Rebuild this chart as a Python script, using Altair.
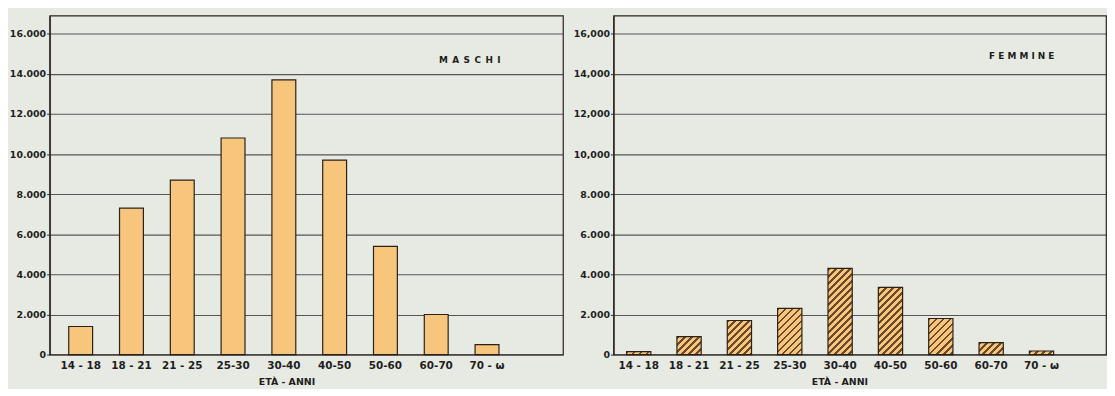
import math
import altair as alt
import pandas as pd

# ---- data ----
ages = ["14 - 18", "18 - 21", "21 - 25", "25-30", "30-40", "40-50", "50-60", "60-70", "70 - ω"]
maschi = [1400, 7300, 8700, 10800, 13700, 9700, 5400, 2000, 500]
femmine = [150, 900, 1700, 2300, 4300, 3350, 1800, 600, 180]
y_ticks = [0, 2000, 4000, 6000, 8000, 10000, 12000, 14000, 16000]

# ---- styles / layout ----
BG = "#e7eae3"
FILL = "#f7c57b"
EDGE = "#2a2218"
GRID = "#3c3c3c"
HATCH = "#6a4a28"
FONT = "DejaVu Sans"

H = 342
YMAX = 16900


def hatch_gradient(w, h, period=5.0, frac=0.4):
    # stripes at 45 degrees in pixel space: t = (x + y) / (w + h)
    r = h / w
    a = (w + h) / (w * (1 + r * r))
    dt = period * math.sqrt(2) / (w + h)
    stops = []
    k = 0
    while k * dt < 1:
        s = k * dt
        m = min(1.0, s + frac * dt)
        e = min(1.0, s + dt)
        stops += [
            {"offset": round(s, 5), "color": HATCH},
            {"offset": round(m, 5), "color": HATCH},
            {"offset": round(m, 5), "color": FILL},
            {"offset": round(e, 5), "color": FILL},
        ]
        k += 1
    return {"gradient": "linear", "x1": 0, "y1": 0, "x2": a, "y2": a * r, "stops": stops}


def panel(values, label, W, pi, po, align, label_expr, hatched, text_x, text_y, title_x):
    df = pd.DataFrame({"age": ages, "n": values})
    x = alt.X(
        "age:N",
        sort=ages,
        scale=alt.Scale(paddingInner=pi, paddingOuter=po, align=align),
        axis=alt.Axis(
            title="ETÀ - ANNI",
            labelAngle=0,
            ticks=False,
            domain=False,
            labelPadding=6,
            labelFontSize=10.5,
            titleX=title_x,
            titleY=22,
            titleAnchor="start",
            titleAlign="center",
            titleBaseline="top",
        ),
    )
    y = alt.Y(
        "n:Q",
        scale=alt.Scale(domain=[0, YMAX], nice=False, zero=True),
        axis=alt.Axis(
            values=y_ticks,
            labelExpr=label_expr,
            title=None,
            grid=True,
            tickSize=3,
            labelPadding=1,
        ),
    )
    base = alt.Chart(df).encode(x=x, y=y)
    layers = []
    if not hatched:
        layers.append(base.mark_bar(fill=FILL, stroke=EDGE, strokeWidth=1.2))
    else:
        step = W / (len(ages) - pi + 2 * po)
        bw = step * (1 - pi)
        for cat, v in zip(ages, values):
            h = max(v / YMAX * H, 1.0)
            layers.append(
                base.transform_filter(alt.datum.age == cat).mark_bar(
                    fill=hatch_gradient(bw, h), stroke=EDGE, strokeWidth=1.2
                )
            )
    txt = (
        alt.Chart(pd.DataFrame({"t": [label]}))
        .mark_text(font=FONT, fontWeight="bold", fontSize=9, color="#1e1e1e", align="center", baseline="middle")
        .encode(x=alt.value(text_x), y=alt.datum(text_y), text="t:N")
    )
    layers.append(txt)
    return alt.layer(*layers).properties(width=W, height=H)


dot_expr = "replace(format(datum.value, ','), ',', '.')"
mix_expr = "datum.value >= 10000 ? format(datum.value, ',') : replace(format(datum.value, ','), ',', '.')"

left = panel(maschi, "M\u2002A\u2002S\u2002C\u2002H\u2002I", 518, 0.53, 0.818, 0.23, dot_expr, False, 424, 14680, 239)
right = panel(femmine, "F E M M I N E", 497, 0.518, 0.65, 0.2, mix_expr, True, 412, 14900, 228)

chart = (
    alt.hconcat(left, right, spacing=8)
    .properties(padding={"left": 0, "top": 5, "right": 0, "bottom": 0}, background=BG)
    .configure_view(stroke=EDGE, strokeWidth=1.2, fill=BG)
    .configure_axis(
        labelFont=FONT,
        labelFontWeight="bold",
        labelFontSize=9.5,
        labelColor="#1e1e1e",
        titleFont=FONT,
        titleFontWeight="bold",
        titleFontSize=9.5,
        titleColor="#1e1e1e",
        gridColor=GRID,
        gridWidth=1.1,
        gridOpacity=0.85,
        domainColor=EDGE,
        domainWidth=1.3,
        tickColor=GRID,
        tickWidth=1.1,
    )
)

chart.save("out.html", embed_options={"renderer": "svg", "actions": False})
